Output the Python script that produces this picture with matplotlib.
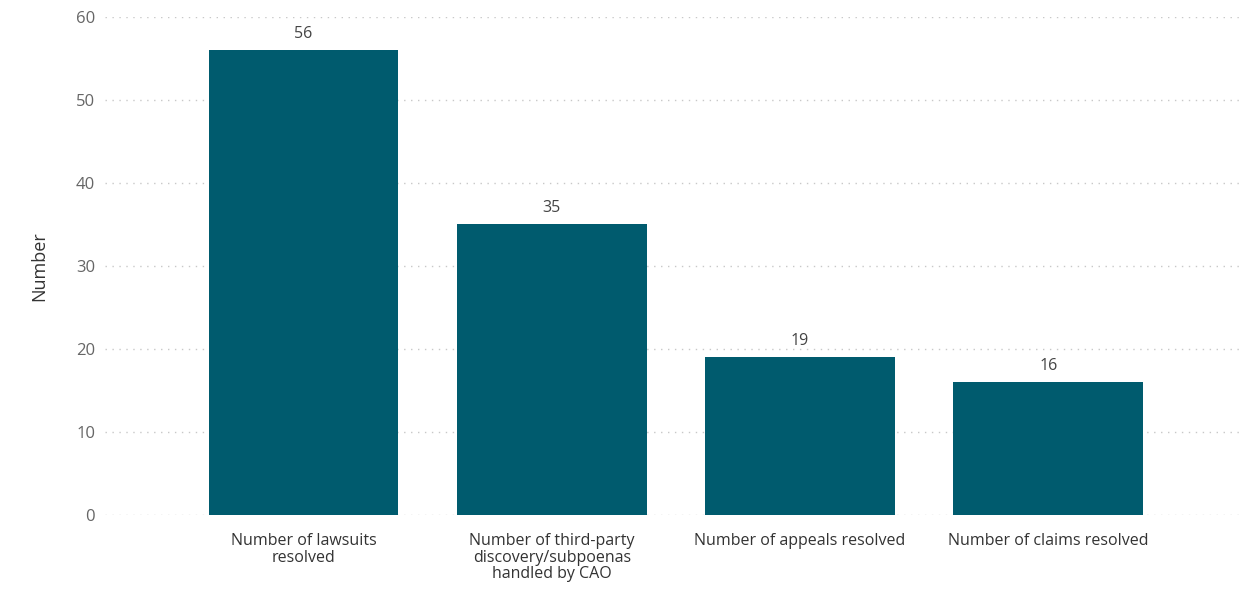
import matplotlib
matplotlib.use("Agg")
import matplotlib.pyplot as plt

categories = [
    "Number of lawsuits\nresolved",
    "Number of third-party\ndiscovery/subpoenas\nhandled by CAO",
    "Number of appeals resolved",
    "Number of claims resolved",
]
values = [56, 35, 19, 16]
y_ticks = [0, 10, 20, 30, 40, 50, 60]

bar_color = "#005B6E"
plt.rcParams["font.family"] = ["Open Sans", "DejaVu Sans"]

fig = plt.figure(figsize=(12.48, 5.95), dpi=100)
ax = fig.add_axes([0.0841, 0.1345, 0.909, 0.837])

x = range(len(values))
bars = ax.bar(x, values, width=0.765, color=bar_color, zorder=3)
for rect, v in zip(bars, values):
    ax.annotate(str(v), (rect.get_x() + rect.get_width() / 2, v),
                xytext=(0, 6), textcoords="offset points",
                ha="center", va="bottom", fontsize=11.5, color="#444444")

ax.set_xlim(-0.8, 3.77)
ax.set_ylim(0, 60)
ax.set_yticks(y_ticks)
ax.set_xticks(list(x))
ax.set_xticklabels(categories, fontsize=11.5, color="#333333", linespacing=1.05)
ax.tick_params(axis="y", labelsize=12, labelcolor="#666666", length=0, pad=7)
ax.tick_params(axis="x", length=0, pad=13)
ax.yaxis.grid(True, linestyle=(0, (1, 4)), color="#c8c8c8", linewidth=1.0, zorder=0)
ax.set_ylabel("Number", fontsize=13, color="#333333", labelpad=20)
for s in ax.spines.values():
    s.set_visible(False)

fig.savefig("out.png", dpi=100)
